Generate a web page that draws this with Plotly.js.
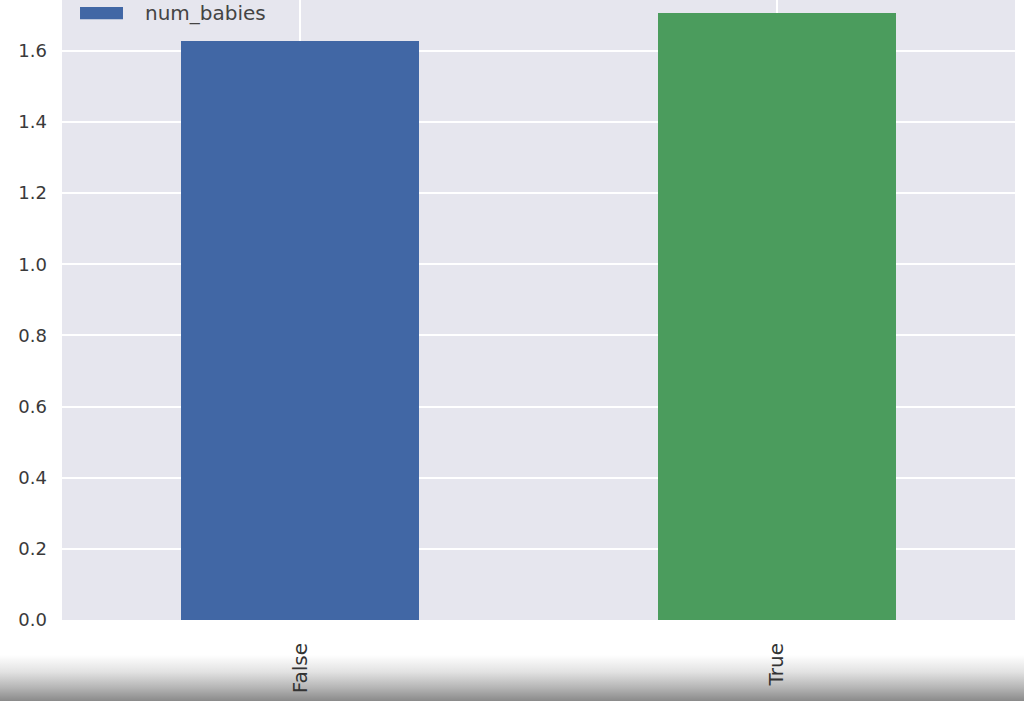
<!DOCTYPE html>
<html>
<head>
<meta charset="utf-8">
<script src="https://cdn.plot.ly/plotly-3.0.1.min.js"></script>
<style>
html,body{margin:0;padding:0;background:#fff;}
#chart{width:1024px;height:701px;position:relative;
background:linear-gradient(to bottom, #ffffff 0px, #ffffff 655px, #e2e2e2 672px, #b4b4b4 688px, #8a8a8a 701px);}
</style>
</head>
<body>
<div id="chart"></div>
<script>
const categories = ["False", "True"];
const numBabies = [1.628, 1.707];
const barColors = ["#4167a5", "#4b9c5d"];
const seriesName = "num_babies";
const yTicks = [0, 0.2, 0.4, 0.6, 0.8, 1.0, 1.2, 1.4, 1.6];
const yTickText = ["0.0", "0.2", "0.4", "0.6", "0.8", "1.0", "1.2", "1.4", "1.6"];

const trace = {
  type: "bar",
  x: categories,
  y: numBabies,
  name: seriesName,
  width: 0.5,
  marker: {color: barColors, line: {width: 0}},
  showlegend: false
};

const layout = {
  width: 1024,
  height: 701,
  margin: {l: 62, r: 9, t: 0, b: 81, pad: 0},
  paper_bgcolor: "rgba(0,0,0,0)",
  plot_bgcolor: "#e6e6ee",
  font: {family: "DejaVu Sans, sans-serif", color: "#3a3a3a"},
  bargap: 0,
  xaxis: {
    type: "category",
    range: [-0.5, 1.5],
    showgrid: true,
    gridcolor: "#ffffff",
    gridwidth: 2,
    zeroline: false,
    showline: false,
    ticks: "",
    tickangle: -90,
    tickfont: {size: 20, color: "#333333"},
    ticklabelstandoff: 18
  },
  yaxis: {
    range: [0, 1.743],
    tickvals: yTicks,
    ticktext: yTickText,
    showgrid: true,
    gridcolor: "#ffffff",
    gridwidth: 2,
    zeroline: false,
    showline: false,
    ticks: "",
    tickfont: {size: 18, color: "#3a3a3a"},
    ticklabelstandoff: 14
  },
  shapes: [{
    type: "rect", xref: "paper", yref: "paper",
    x0: 0.0189, x1: 0.064, y0: 0.969, y1: 0.9887,
    fillcolor: barColors[0], line: {width: 0}
  }],
  annotations: [{
    xref: "paper", yref: "paper",
    x: 0.085, y: 0.979, xanchor: "left", yanchor: "middle",
    text: seriesName, showarrow: false,
    font: {size: 20, color: "#444444"}
  }],
  showlegend: false
};

Plotly.newPlot("chart", [trace], layout, {displayModeBar: false, staticPlot: true});
</script>
</body>
</html>
